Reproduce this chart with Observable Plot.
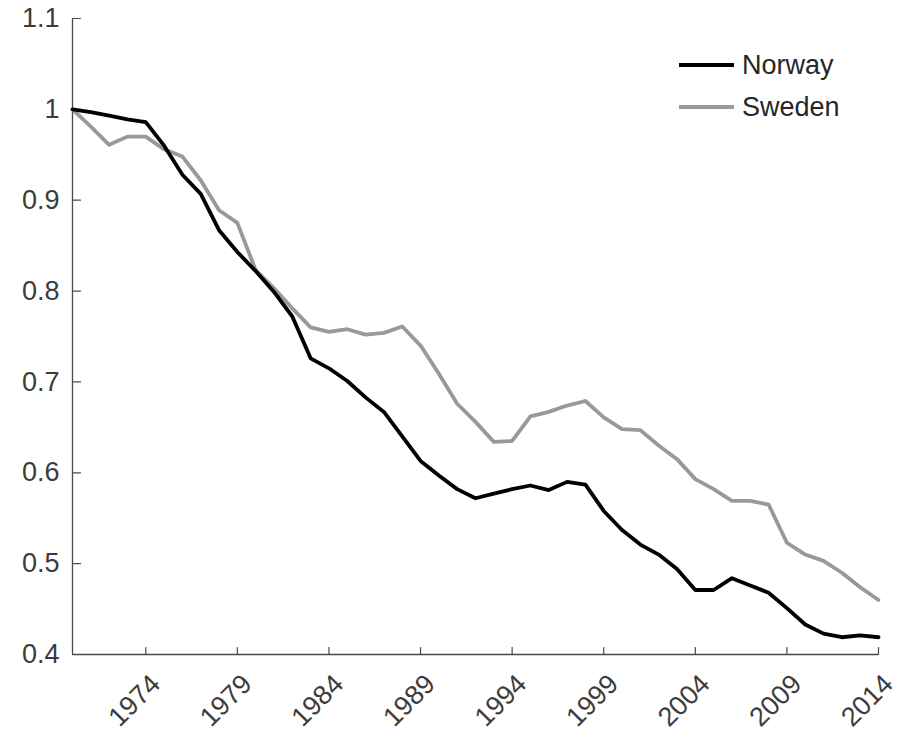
<!DOCTYPE html>
<html>
<head>
<meta charset="utf-8">
<script src="https://cdn.jsdelivr.net/npm/d3@7"></script>
<script src="https://cdn.jsdelivr.net/npm/@observablehq/plot@0.6"></script>
<style>
  html, body { margin: 0; padding: 0; background: #fff; }
  #wrap { position: relative; width: 902px; height: 737px; font-family: "Liberation Sans", Arial, Helvetica, sans-serif; }
  .leg { position: absolute; left: 679px; display: flex; align-items: center; height: 30px; font-size: 27px; color: #262626; }
  .leg .sw { width: 55px; height: 0; border-top-style: solid; margin-right: 8px; }
</style>
</head>
<body>
<div id="wrap"></div>
<script>
const years = [1970,1971,1972,1973,1974,1975,1976,1977,1978,1979,
  1980,1981,1982,1983,1984,1985,1986,1987,1988,1989,
  1990,1991,1992,1993,1994,1995,1996,1997,1998,1999,
  2000,2001,2002,2003,2004,2005,2006,2007,2008,2009,
  2010,2011,2012,2013,2014];
const norway = [1.000,0.997,0.993,0.989,0.986,0.960,0.928,0.907,0.867,0.843,
  0.822,0.799,0.772,0.726,0.715,0.701,0.683,0.667,0.640,0.613,
  0.597,0.582,0.572,0.577,0.582,0.586,0.581,0.590,0.587,0.558,
  0.537,0.521,0.510,0.494,0.471,0.471,0.484,0.476,0.468,0.451,
  0.433,0.423,0.419,0.421,0.419];
const sweden = [1.000,0.981,0.961,0.970,0.970,0.956,0.948,0.922,0.889,0.875,
  0.823,0.803,0.781,0.760,0.755,0.758,0.752,0.754,0.761,0.740,
  0.709,0.676,0.656,0.634,0.635,0.662,0.667,0.674,0.679,0.661,
  0.648,0.647,0.630,0.615,0.593,0.582,0.569,0.569,0.565,0.523,
  0.510,0.503,0.490,0.474,0.460];
const seriesNames = ["Norway", "Sweden"];
const seriesColors = ["#000000", "#999999"];
const xTicks = [1974,1979,1984,1989,1994,1999,2004,2009,2014];
const xTickLabels = ["1974","1979","1984","1989","1994","1999","2004","2009","2014"];
const yTicks = [0.4,0.5,0.6,0.7,0.8,0.9,1.0,1.1];
const yTickLabels = ["0.4","0.5","0.6","0.7","0.8","0.9","1","1.1"];

const rows = [];
years.forEach((yr, i) => {
  rows.push({year: yr, value: norway[i], country: seriesNames[0]});
  rows.push({year: yr, value: sweden[i], country: seriesNames[1]});
});

const axisColor = "#4a4a4a";
const textColor = "#3c3c3c";
// a plain line segment as vector shape (inward tick)
const tickShape = {draw(context, l) { context.moveTo(0, 0); context.lineTo(0, -l); }};

const chart = Plot.plot({
  width: 902,
  height: 737,
  marginLeft: 72,
  marginRight: 24,
  marginTop: 18,
  marginBottom: 83,
  style: {fontFamily: '"Liberation Sans", Arial, Helvetica, sans-serif', fontSize: "27px", background: "#fff", color: textColor, overflow: "visible"},
  x: {domain: [years[0], years[years.length - 1]]},
  y: {domain: [yTicks[0], yTicks[yTicks.length - 1]]},
  marks: [
    Plot.axisY({ticks: yTicks, tickSize: 0, tickPadding: 13, label: null, fill: textColor,
      tickFormat: d => yTickLabels[yTicks.findIndex(t => Math.abs(t - d) < 1e-9)]}),
    Plot.axisX({ticks: xTicks, tickSize: 0, tickPadding: 25, dx: 10, tickRotate: -45, label: null, fill: textColor,
      tickFormat: d => xTickLabels[xTicks.indexOf(d)]}),
    Plot.vector(yTicks, {x: years[0], y: d => d, length: 8, rotate: 90, anchor: "start", shape: tickShape, stroke: axisColor, strokeWidth: 1.2}),
    Plot.vector(xTicks, {x: d => d, y: yTicks[0], length: 7, rotate: 0, anchor: "start", shape: tickShape, stroke: axisColor, strokeWidth: 1.2}),
    Plot.ruleX([years[0]], {stroke: axisColor, strokeWidth: 1.3}),
    Plot.ruleY([yTicks[0]], {stroke: axisColor, strokeWidth: 1.3}),
    Plot.line(rows.filter(d => d.country === seriesNames[1]), {x: "year", y: "value", stroke: seriesColors[1], strokeWidth: 3.8, strokeLinejoin: "round"}),
    Plot.line(rows.filter(d => d.country === seriesNames[0]), {x: "year", y: "value", stroke: seriesColors[0], strokeWidth: 3.8, strokeLinejoin: "round"})
  ]
});

const wrap = document.getElementById("wrap");
wrap.appendChild(chart);
const legendTops = [50, 92];
seriesNames.forEach((name, i) => {
  const row = document.createElement("div");
  row.className = "leg";
  row.style.top = legendTops[i] + "px";
  const sw = document.createElement("span");
  sw.className = "sw";
  sw.style.borderTopColor = seriesColors[i];
  sw.style.borderTopWidth = "4px";
  const t = document.createElement("span");
  t.textContent = name;
  row.appendChild(sw);
  row.appendChild(t);
  wrap.appendChild(row);
});
</script>
</body>
</html>
